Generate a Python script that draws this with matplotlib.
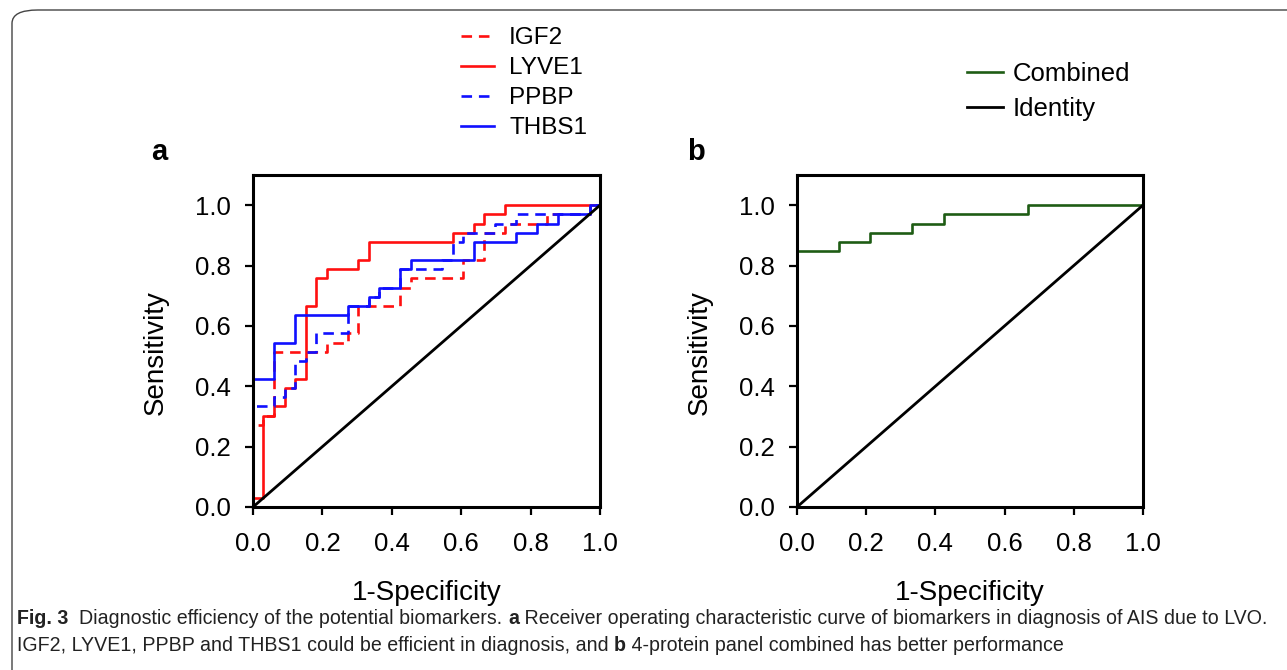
import matplotlib
matplotlib.use("Agg")
import matplotlib.pyplot as plt
from matplotlib.patches import FancyBboxPatch
from matplotlib.text import Annotation

# ---------------- data (ROC step vertices) ----------------
igf2_fpr = [0, 0, 0.030, 0.030, 0.061, 0.061, 0.212, 0.212, 0.273, 0.273, 0.303, 0.303,
            0.424, 0.424, 0.455, 0.455, 0.606, 0.606, 0.667, 0.667, 0.727, 0.727,
            0.848, 0.848, 0.970, 0.970, 1.0]
igf2_tpr = [0, 0.273, 0.273, 0.303, 0.303, 0.515, 0.515, 0.545, 0.545, 0.576, 0.576, 0.667,
            0.667, 0.727, 0.727, 0.758, 0.758, 0.818, 0.818, 0.909, 0.909, 0.939,
            0.939, 0.970, 0.970, 1.0, 1.0]

lyve1_fpr = [0, 0, 0.030, 0.030, 0.061, 0.061, 0.091, 0.091, 0.121, 0.121, 0.152, 0.152,
             0.182, 0.182, 0.212, 0.212, 0.303, 0.303, 0.333, 0.333, 0.576, 0.576,
             0.636, 0.636, 0.667, 0.667, 0.727, 0.727, 1.0]
lyve1_tpr = [0, 0.030, 0.030, 0.303, 0.303, 0.333, 0.333, 0.394, 0.394, 0.424, 0.424, 0.667,
             0.667, 0.758, 0.758, 0.788, 0.788, 0.818, 0.818, 0.879, 0.879, 0.909,
             0.909, 0.939, 0.939, 0.970, 0.970, 1.0, 1.0]

ppbp_fpr = [0, 0, 0.061, 0.061, 0.091, 0.091, 0.121, 0.121, 0.152, 0.152, 0.182, 0.182,
            0.273, 0.273, 0.333, 0.333, 0.364, 0.364, 0.424, 0.424, 0.545, 0.545,
            0.576, 0.576, 0.606, 0.606, 0.697, 0.697, 0.758, 0.758, 0.970, 0.970, 1.0]
ppbp_tpr = [0, 0.333, 0.333, 0.364, 0.364, 0.394, 0.394, 0.485, 0.485, 0.515, 0.515, 0.576,
            0.576, 0.667, 0.667, 0.697, 0.697, 0.727, 0.727, 0.788, 0.788, 0.818,
            0.818, 0.879, 0.879, 0.909, 0.909, 0.939, 0.939, 0.970, 0.970, 1.0, 1.0]

thbs1_fpr = [0, 0, 0.061, 0.061, 0.121, 0.121, 0.273, 0.273, 0.333, 0.333, 0.364, 0.364,
             0.424, 0.424, 0.455, 0.455, 0.636, 0.636, 0.758, 0.758, 0.818, 0.818,
             0.879, 0.879, 0.970, 0.970, 1.0]
thbs1_tpr = [0, 0.424, 0.424, 0.545, 0.545, 0.636, 0.636, 0.667, 0.667, 0.697, 0.697, 0.727,
             0.727, 0.788, 0.788, 0.818, 0.818, 0.879, 0.879, 0.909, 0.909, 0.939,
             0.939, 0.970, 0.970, 1.0, 1.0]

comb_fpr = [0, 0, 0.121, 0.121, 0.212, 0.212, 0.333, 0.333, 0.424, 0.424, 0.667, 0.667, 1.0]
comb_tpr = [0, 0.848, 0.848, 0.879, 0.879, 0.909, 0.909, 0.939, 0.939, 0.970, 0.970, 1.0, 1.0]

identity = [0, 1]

ticks = [0.0, 0.2, 0.4, 0.6, 0.8, 1.0]
tick_labels = ["0.0", "0.2", "0.4", "0.6", "0.8", "1.0"]

caption_parts_1 = [("Fig. 3", "bold"), ("  Diagnostic efficiency of the potential biomarkers. ", "normal"),
                   ("a", "bold"), (" Receiver operating characteristic curve of biomarkers in diagnosis of AIS due to LVO.", "normal")]
caption_parts_2 = [("IGF2, LYVE1, PPBP and THBS1 could be efficient in diagnosis, and ", "normal"),
                   ("b", "bold"), (" 4-protein panel combined has better performance", "normal")]

# ---------------- figure ----------------
W, H = 1287, 670
fig = plt.figure(figsize=(W / 100, H / 100), dpi=100)
plt.rcParams['font.family'] = ['Liberation Sans', 'DejaVu Sans']

RED = "#ff1010"
BLUE = "#1010ff"
GREEN = "#1e5c14"
LW = 1.9

def px(x0, y0, x1, y1):
    return [x0 / W, 1 - y1 / H, (x1 - x0) / W, (y1 - y0) / H]

ax_a = fig.add_axes(px(253, 175, 600, 507))
ax_b = fig.add_axes(px(797, 175, 1143, 507))

l_igf2, = ax_a.plot(igf2_fpr, igf2_tpr, color=RED, lw=LW, dashes=(4, 2.6), label="IGF2")
l_lyve1, = ax_a.plot(lyve1_fpr, lyve1_tpr, color=RED, lw=LW, label="LYVE1")
l_ppbp, = ax_a.plot(ppbp_fpr, ppbp_tpr, color=BLUE, lw=LW, dashes=(4, 2.6), label="PPBP")
l_thbs1, = ax_a.plot(thbs1_fpr, thbs1_tpr, color=BLUE, lw=LW, label="THBS1")
ax_a.plot(identity, identity, color="black", lw=2.0)

l_comb, = ax_b.plot(comb_fpr, comb_tpr, color=GREEN, lw=LW, label="Combined")
l_id, = ax_b.plot(identity, identity, color="black", lw=2.0, label="Identity")

for ax in (ax_a, ax_b):
    ax.set_xlim(0, 1.0)
    ax.set_ylim(0, 1.1)
    ax.set_xticks(ticks)
    ax.set_xticklabels(tick_labels)
    ax.set_yticks(ticks)
    ax.set_yticklabels(tick_labels)
    for s in ax.spines.values():
        s.set_linewidth(2.2)
    ax.tick_params(direction="out", length=6, width=1.6, labelsize=18.5)
    ax.tick_params(axis="x", pad=12)
    ax.tick_params(axis="y", pad=10)
    ax.set_xlabel("1-Specificity", fontsize=20, labelpad=17.5)
    ax.set_ylabel("Sensitivity", fontsize=20, labelpad=19, y=0.465)
    for l in ax.get_lines():
        l.set_clip_on(False)

fig.text(151 / W, 1 - 160 / H, "a", fontsize=21, fontweight="bold")
fig.text(687 / W, 1 - 160 / H, "b", fontsize=21, fontweight="bold")

fs_a = 17.5
fig.legend(handles=[l_igf2, l_lyve1, l_ppbp, l_thbs1], loc="upper left",
           bbox_to_anchor=(461 / W, 1 - 27 / H), frameon=False, fontsize=fs_a,
           handlelength=1.36, handletextpad=0.62, labelspacing=0.33, borderpad=0, borderaxespad=0)
fs_b = 18.5
fig.legend(handles=[l_comb, l_id], loc="upper left",
           bbox_to_anchor=(967 / W, 1 - 62 / H), frameon=False, fontsize=fs_b,
           handlelength=1.4, handletextpad=0.39, labelspacing=0.42, borderpad=0, borderaxespad=0)

# border frame
box = FancyBboxPatch((12 / W, -0.05), 1.2, 1 - 10 / H + 0.05, boxstyle="round,pad=0,rounding_size=0.02",
                     transform=fig.transFigure, fill=False, edgecolor="#444444", lw=1.0, clip_on=False)
fig.add_artist(box)

# caption, inline bold/regular runs chained one after another
cap_family = ['Liberation Sans', 'DejaVu Sans']
CAP_FS = 14.1

def chain(parts, x, y):
    t = fig.text(x, y, parts[0][0], fontsize=CAP_FS, fontweight=parts[0][1], family=cap_family,
                 color="#222222", va="baseline")
    for s, w in parts[1:]:
        t = fig.add_artist(Annotation(s, xy=(1, 0), xycoords=t, xytext=(0, 0),
                                      textcoords="offset points", va="bottom", ha="left",
                                      fontsize=CAP_FS, fontweight=w, family=cap_family,
                                      color="#222222"))
    return t

chain(caption_parts_1, 17 / W, 1 - 624 / H)
chain(caption_parts_2, 17 / W, 1 - 651 / H)

fig.savefig("out.png", dpi=100)
